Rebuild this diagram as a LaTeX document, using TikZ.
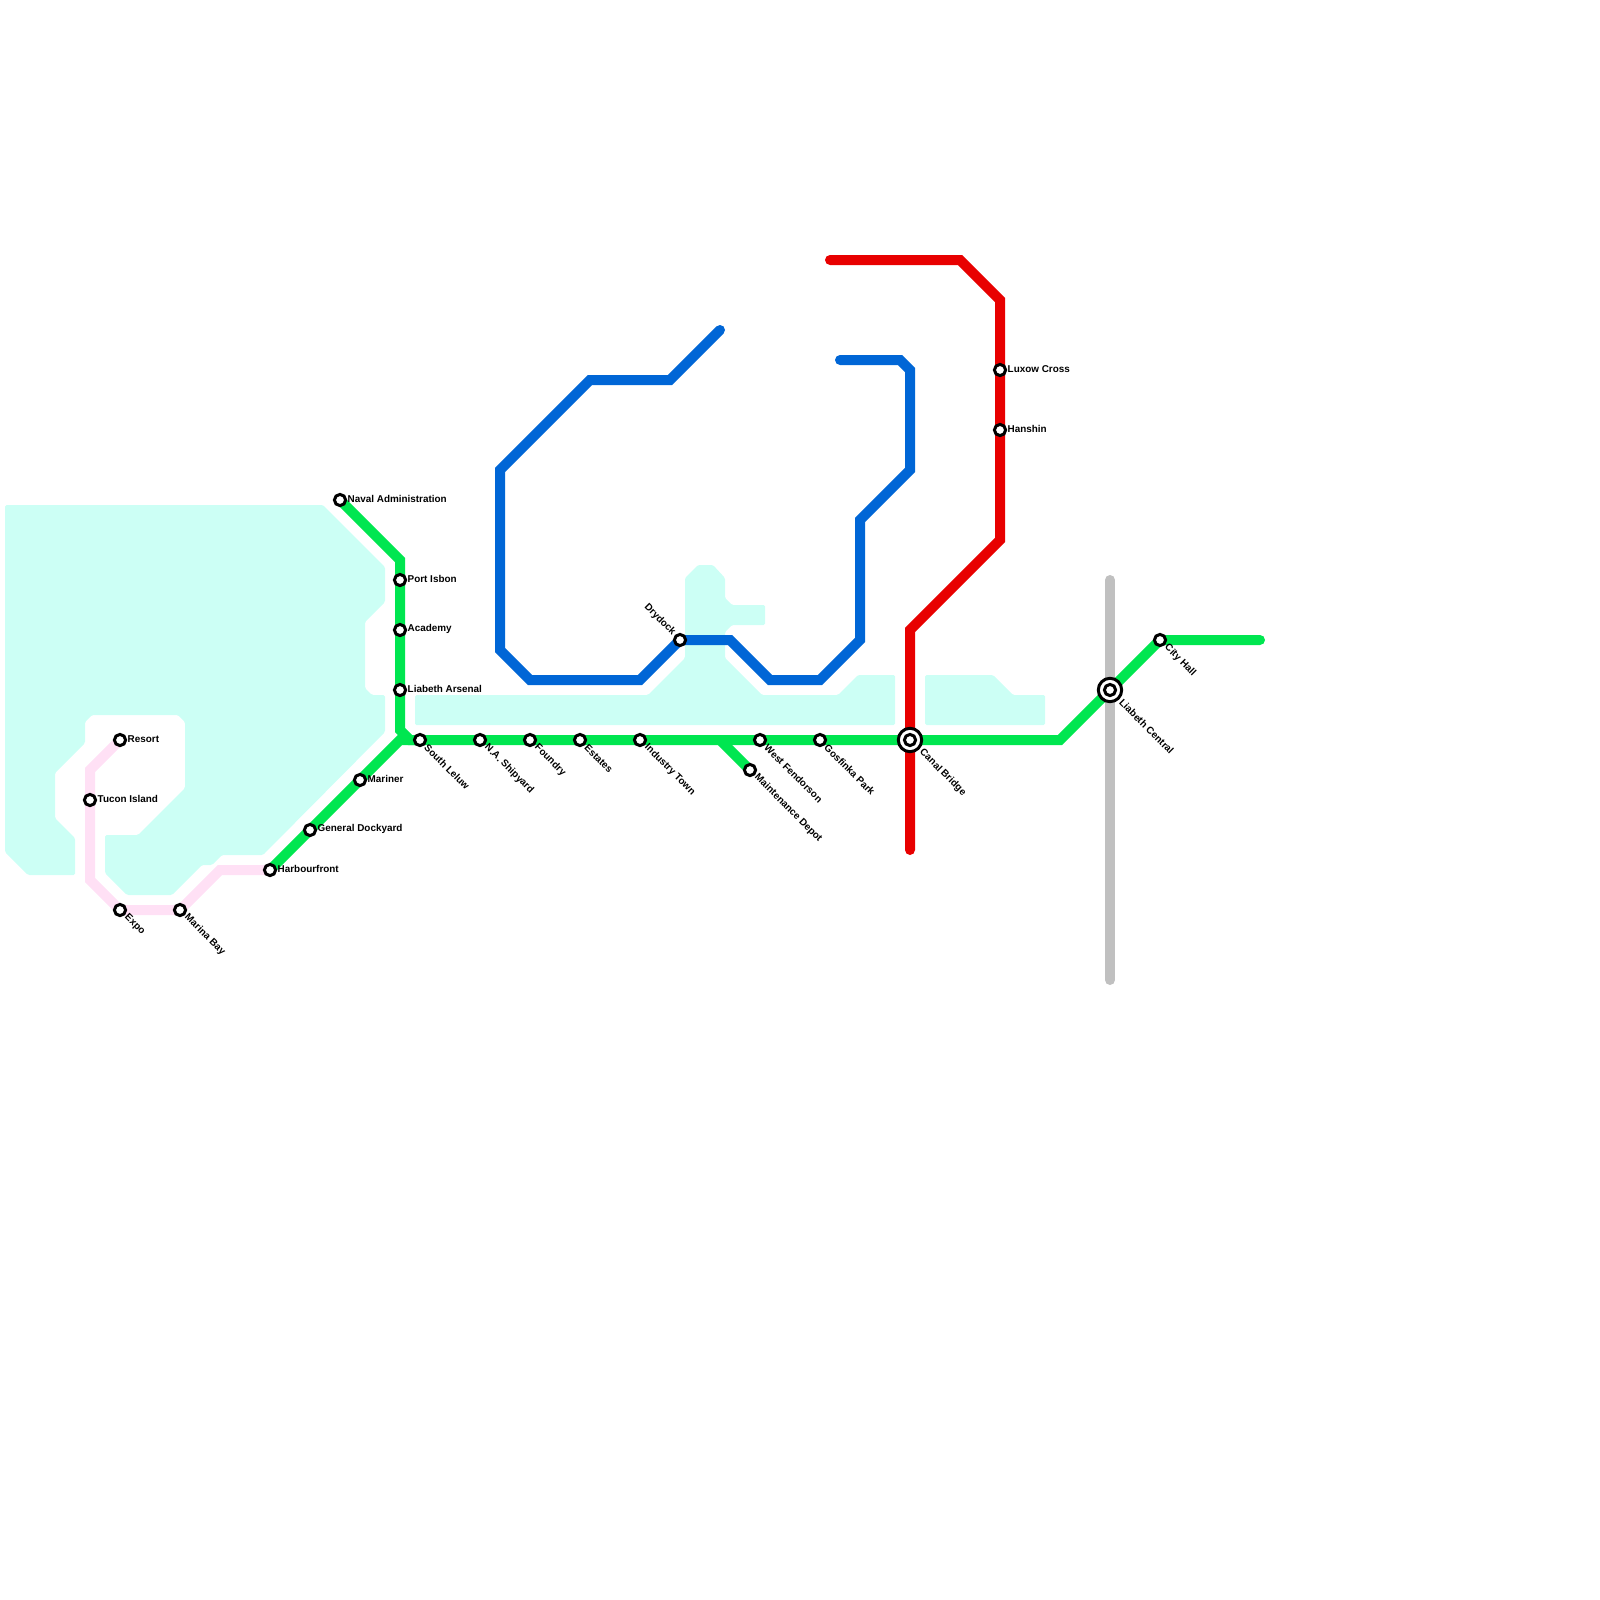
\documentclass[tikz,border=0pt]{standalone}
\usepackage{fontspec}
\setmainfont{Liberation Sans}
\definecolor{water}{HTML}{CCFFF5}
\definecolor{greenline}{HTML}{00E650}
\definecolor{blueline}{HTML}{0066D6}
\definecolor{redline}{HTML}{E80000}
\definecolor{greyline}{HTML}{C0C0C0}
\definecolor{pinkline}{HTML}{FFE0F5}
\begin{document}
\begin{tikzpicture}[x=1pt, y=-1pt,
    route/.style={line width=10pt, line join=miter},
    sea/.style={fill=water, rounded corners=1.5pt},
    station/.style={circle, draw=black, fill=white, line width=3pt, minimum size=11.2pt, inner sep=0pt},
    hub/.style={circle, draw=black, fill=white, line width=3pt, minimum size=23.4pt, inner sep=0pt},
    namer/.style={anchor=west, inner sep=0pt, font=\fontsize{9.9}{11}\selectfont\bfseries},
    named/.style={anchor=west, rotate=-45, inner sep=0pt, font=\fontsize{9.9}{11}\selectfont\bfseries},
    namel/.style={anchor=east, rotate=-45, inner sep=0pt, font=\fontsize{9.9}{11}\selectfont\bfseries}]
  \useasboundingbox (0,0) rectangle (1600,1600);
  % water
  \fill[sea] (5,505) -- (323,505) -- (385,567) -- (385,602) -- (365,622) -- (365,688)
    -- (372,695) -- (385,695) -- (385,732) -- (263,855) -- (222,855) -- (212,865)
    -- (202,865) -- (172,895) -- (127,895) -- (105,873) -- (105,835) -- (138,835)
    -- (185,788) -- (185,722) -- (178,715) -- (92,715) -- (85,722) -- (85,743)
    -- (55,773) -- (55,818) -- (75,838) -- (75,875) -- (28,875) -- (5,852) -- cycle;
  \fill[sea] (415,695) -- (648,695) -- (685,658) -- (685,578) -- (698,565) -- (713,565)
    -- (725,578) -- (725,598) -- (732,605) -- (765,605) -- (765,625) -- (732,625)
    -- (725,632) -- (725,658) -- (762,695) -- (838,695) -- (858,675) -- (895,675)
    -- (895,725) -- (415,725) -- cycle;
  \fill[sea] (925,675) -- (993,675) -- (1013,695) -- (1045,695) -- (1045,725)
    -- (925,725) -- cycle;
  % stations
  \coordinate (navaladmin) at (340,500);
  \coordinate (portisbon) at (400,580);
  \coordinate (academy) at (400,630);
  \coordinate (arsenal) at (400,690);
  \coordinate (mariner) at (360,780);
  \coordinate (dockyard) at (310,830);
  \coordinate (harbourfront) at (270,870);
  \coordinate (southleluw) at (420,740);
  \coordinate (shipyard) at (480,740);
  \coordinate (foundry) at (530,740);
  \coordinate (estates) at (580,740);
  \coordinate (industry) at (640,740);
  \coordinate (fendorson) at (760,740);
  \coordinate (depot) at (750,770);
  \coordinate (gosfinka) at (820,740);
  \coordinate (canal) at (910,740);
  \coordinate (central) at (1110,690);
  \coordinate (cityhall) at (1160,640);
  \coordinate (resort) at (120,740);
  \coordinate (tucon) at (90,800);
  \coordinate (expo) at (120,910);
  \coordinate (marina) at (180,910);
  \coordinate (drydock) at (680,640);
  \coordinate (luxow) at (1000,370);
  \coordinate (hanshin) at (1000,430);
  % free ends and bends
  \coordinate (greyN) at (1110,580);
  \coordinate (greyS) at (1110,980);
  \coordinate (greenE) at (1260,640);
  \coordinate (greenA) at (400,560);
  \coordinate (greenB) at (400,730);
  \coordinate (greenC) at (410,740);
  \coordinate (greenD) at (400,740);
  \coordinate (greenF) at (1060,740);
  \coordinate (branch) at (720,740);
  \coordinate (pinkA) at (90,770);
  \coordinate (pinkB) at (90,880);
  \coordinate (pinkC) at (220,870);
  \coordinate (blueN) at (720,330);
  \coordinate (blueA) at (670,380);
  \coordinate (blueB) at (590,380);
  \coordinate (blueC) at (500,470);
  \coordinate (blueD) at (500,650);
  \coordinate (blueE) at (530,680);
  \coordinate (blueF) at (640,680);
  \coordinate (blueG) at (730,640);
  \coordinate (blueH) at (770,680);
  \coordinate (blueI) at (820,680);
  \coordinate (blueJ) at (860,640);
  \coordinate (blueK) at (860,520);
  \coordinate (blueL) at (910,470);
  \coordinate (blueM) at (910,370);
  \coordinate (blueO) at (900,360);
  \coordinate (blueP) at (840,360);
  \coordinate (redN) at (830,260);
  \coordinate (redA) at (960,260);
  \coordinate (redB) at (1000,300);
  \coordinate (redC) at (1000,540);
  \coordinate (redD) at (910,630);
  \coordinate (redS) at (910,850);
  % routes
  \draw[route, greyline, line cap=round] (greyN) -- (greyS);
  \draw[route, redline, line cap=round] (redN) -- (redA) -- (redB) -- (redC) -- (redD) -- (redS);
  \draw[route, blueline, line cap=round] (blueN) -- (blueA) -- (blueB) -- (blueC) -- (blueD)
    -- (blueE) -- (blueF) -- (drydock) -- (blueG) -- (blueH) -- (blueI) -- (blueJ) -- (blueK)
    -- (blueL) -- (blueM) -- (blueO) -- (blueP);
  \draw[route, pinkline] (resort) -- (pinkA) -- (pinkB) -- (expo) -- (marina) -- (pinkC) -- (harbourfront);
  \draw[route, greenline] (navaladmin) -- (greenA) -- (greenB) -- (greenC) -- (southleluw);
  \draw[route, greenline] (harbourfront) -- (greenD) -- (southleluw);
  \draw[route, greenline, line cap=round] (southleluw) -- (greenF) -- (cityhall) -- (greenE);
  \draw[route, greenline] (branch) -- (depot);
  % station marks
  \node[station] (navaladminS) at (navaladmin) {};
  \node[station] (portisbonS) at (portisbon) {};
  \node[station] (academyS) at (academy) {};
  \node[station] (arsenalS) at (arsenal) {};
  \node[station] (marinerS) at (mariner) {};
  \node[station] (dockyardS) at (dockyard) {};
  \node[station] (harbourfrontS) at (harbourfront) {};
  \node[station] (southleluwS) at (southleluw) {};
  \node[station] (shipyardS) at (shipyard) {};
  \node[station] (foundryS) at (foundry) {};
  \node[station] (estatesS) at (estates) {};
  \node[station] (industryS) at (industry) {};
  \node[station] (fendorsonS) at (fendorson) {};
  \node[station] (depotS) at (depot) {};
  \node[station] (gosfinkaS) at (gosfinka) {};
  \node[hub] (canalH) at (canal) {};
  \node[station] (canalS) at (canal) {};
  \node[hub] (centralH) at (central) {};
  \node[station] (centralS) at (central) {};
  \node[station] (cityhallS) at (cityhall) {};
  \node[station] (resortS) at (resort) {};
  \node[station] (tuconS) at (tucon) {};
  \node[station] (expoS) at (expo) {};
  \node[station] (marinaS) at (marina) {};
  \node[station] (drydockS) at (drydock) {};
  \node[station] (luxowS) at (luxow) {};
  \node[station] (hanshinS) at (hanshin) {};
  % names
  \node[namer] (navaladminL) at ([shift={(7.5,-1)}]navaladmin) {Naval Administration};
  \node[namer] (portisbonL) at ([shift={(7.5,-1)}]portisbon) {Port Isbon};
  \node[namer] (academyL) at ([shift={(7.5,-1)}]academy) {Academy};
  \node[namer] (arsenalL) at ([shift={(7.5,-1)}]arsenal) {Liabeth Arsenal};
  \node[namer] (marinerL) at ([shift={(7.5,-1)}]mariner) {Mariner};
  \node[namer] (dockyardL) at ([shift={(7.5,-1)}]dockyard) {General Dockyard};
  \node[namer] (harbourfrontL) at ([shift={(7.5,-1)}]harbourfront) {Harbourfront};
  \node[namer] (resortL) at ([shift={(7.5,-1)}]resort) {Resort};
  \node[namer] (tuconL) at ([shift={(7.5,-1)}]tucon) {Tucon Island};
  \node[namer] (luxowL) at ([shift={(7.5,-1)}]luxow) {Luxow Cross};
  \node[namer] (hanshinL) at ([shift={(7.5,-1)}]hanshin) {Hanshin};
  \node[named] (southleluwL) at ([shift={(6,6)}]southleluw) {South Leluw};
  \node[named] (shipyardL) at ([shift={(6,6)}]shipyard) {N.A. Shipyard};
  \node[named] (foundryL) at ([shift={(6,6)}]foundry) {Foundry};
  \node[named] (estatesL) at ([shift={(6,6)}]estates) {Estates};
  \node[named] (industryL) at ([shift={(6,6)}]industry) {Industry Town};
  \node[named] (fendorsonL) at ([shift={(6,6)}]fendorson) {West Fendorson};
  \node[named] (depotL) at ([shift={(6,6)}]depot) {Maintenance Depot};
  \node[named] (gosfinkaL) at ([shift={(6,6)}]gosfinka) {Gosfinka Park};
  \node[named] (canalL) at ([shift={(11,11)}]canal) {Canal Bridge};
  \node[named] (centralL) at ([shift={(11,11)}]central) {Liabeth Central};
  \node[named] (cityhallL) at ([shift={(6,6)}]cityhall) {City Hall};
  \node[named] (expoL) at ([shift={(6,6)}]expo) {Expo};
  \node[named] (marinaL) at ([shift={(6,6)}]marina) {Marina Bay};
  \node[namel] (drydockL) at ([shift={(-6,-6)}]drydock) {Drydock};
\end{tikzpicture}
\end{document}
